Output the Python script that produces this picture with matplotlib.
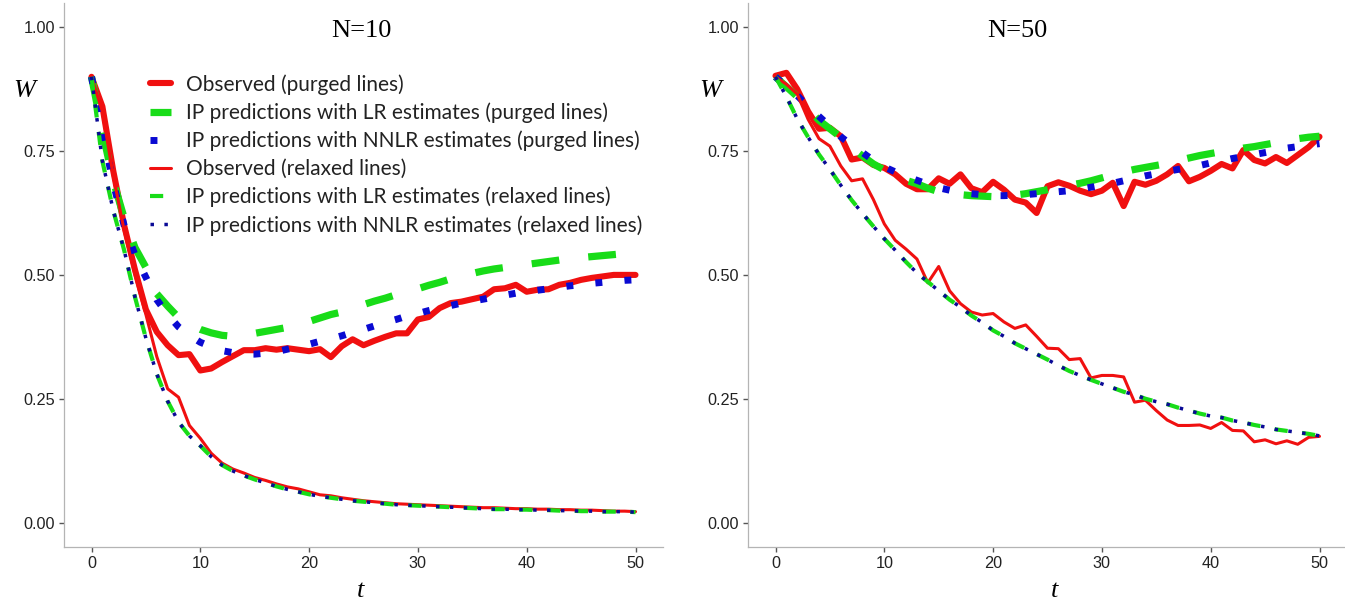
import matplotlib
matplotlib.use("Agg")
import matplotlib.pyplot as plt
from matplotlib.lines import Line2D

W_PX, H_PX = 1345, 601

t = list(range(51))

# N=10
obs_purged_10 = [0.90, 0.84, 0.71, 0.60, 0.51, 0.43, 0.385, 0.358, 0.338, 0.34,
                 0.307, 0.311, 0.324, 0.336, 0.348, 0.348, 0.352, 0.349, 0.352, 0.349,
                 0.346, 0.35, 0.334, 0.356, 0.37, 0.358, 0.367, 0.375, 0.382, 0.382,
                 0.41, 0.415, 0.433, 0.443, 0.446, 0.451, 0.456, 0.471, 0.473, 0.48,
                 0.466, 0.47, 0.471, 0.48, 0.484, 0.49, 0.494, 0.497, 0.5, 0.5, 0.5]
lr_purged_10 = [0.90, 0.79, 0.69, 0.615, 0.555, 0.515, 0.462, 0.437, 0.414, 0.40,
                0.39, 0.383, 0.378, 0.376, 0.378, 0.382, 0.386, 0.39, 0.394, 0.40,
                0.406, 0.413, 0.42, 0.425, 0.432, 0.44, 0.447, 0.453, 0.46, 0.466,
                0.472, 0.479, 0.485, 0.492, 0.498, 0.503, 0.508, 0.512, 0.515, 0.518,
                0.521, 0.524, 0.527, 0.53, 0.533, 0.535, 0.537, 0.539, 0.541, 0.543, 0.545]
nnlr_purged_10 = [0.90, 0.79, 0.685, 0.60, 0.54, 0.495, 0.45, 0.42, 0.395, 0.378,
                  0.364, 0.355, 0.347, 0.343, 0.34, 0.34, 0.342, 0.345, 0.35, 0.355,
                  0.36, 0.366, 0.371, 0.377, 0.384, 0.39, 0.397, 0.404, 0.41, 0.417,
                  0.422, 0.428, 0.433, 0.438, 0.443, 0.447, 0.451, 0.455, 0.459, 0.463,
                  0.466, 0.469, 0.472, 0.475, 0.478, 0.48, 0.483, 0.485, 0.487, 0.489, 0.49]
obs_relaxed_10 = [0.90, 0.83, 0.70, 0.59, 0.50, 0.42, 0.335, 0.27, 0.253, 0.196,
                  0.17, 0.14, 0.12, 0.108, 0.10, 0.091, 0.085, 0.078, 0.072, 0.068,
                  0.062, 0.056, 0.054, 0.05, 0.047, 0.044, 0.042, 0.04, 0.038, 0.037,
                  0.036, 0.035, 0.034, 0.033, 0.032, 0.031, 0.030, 0.030, 0.029, 0.028,
                  0.028, 0.027, 0.027, 0.026, 0.026, 0.025, 0.025, 0.024, 0.023, 0.023, 0.022]
lr_relaxed_10 = [0.90, 0.73, 0.63, 0.55, 0.455, 0.372, 0.30, 0.245, 0.203, 0.175,
                 0.155, 0.133, 0.116, 0.104, 0.095, 0.087, 0.08, 0.073, 0.067, 0.062,
                 0.057, 0.053, 0.05, 0.047, 0.044, 0.042, 0.04, 0.038, 0.036, 0.035,
                 0.034, 0.033, 0.032, 0.031, 0.030, 0.029, 0.028, 0.027, 0.027, 0.026,
                 0.026, 0.025, 0.025, 0.024, 0.024, 0.023, 0.023, 0.022, 0.022, 0.022, 0.021]
nnlr_relaxed_10 = list(lr_relaxed_10)  # drawn on top of each other in the original

# N=50
obs_purged_50 = [0.902, 0.908, 0.875, 0.83, 0.795, 0.797, 0.78, 0.733, 0.737, 0.722,
                 0.716, 0.703, 0.684, 0.673, 0.673, 0.695, 0.684, 0.703, 0.675, 0.667,
                 0.688, 0.672, 0.652, 0.646, 0.625, 0.679, 0.687, 0.68, 0.67, 0.663,
                 0.67, 0.686, 0.639, 0.688, 0.682, 0.69, 0.703, 0.72, 0.689, 0.698,
                 0.71, 0.724, 0.715, 0.752, 0.732, 0.725, 0.738, 0.726, 0.742, 0.758, 0.779]
lr_purged_50 = [0.90, 0.88, 0.86, 0.835, 0.812, 0.795, 0.778, 0.757, 0.74, 0.724,
                0.712, 0.70, 0.691, 0.684, 0.675, 0.668, 0.664, 0.662, 0.66, 0.659,
                0.658, 0.659, 0.661, 0.664, 0.668, 0.672, 0.677, 0.681, 0.685, 0.69,
                0.696, 0.702, 0.708, 0.713, 0.717, 0.721, 0.725, 0.731, 0.736, 0.741,
                0.745, 0.749, 0.752, 0.756, 0.759, 0.763, 0.767, 0.771, 0.775, 0.778, 0.78]
nnlr_purged_50 = [0.90, 0.88, 0.862, 0.84, 0.82, 0.80, 0.779, 0.762, 0.747, 0.731,
                  0.718, 0.708, 0.699, 0.691, 0.683, 0.676, 0.671, 0.667, 0.664, 0.662,
                  0.66, 0.66, 0.661, 0.662, 0.664, 0.666, 0.668, 0.67, 0.673, 0.677,
                  0.681, 0.685, 0.69, 0.695, 0.70, 0.704, 0.709, 0.713, 0.717, 0.721,
                  0.726, 0.73, 0.735, 0.739, 0.743, 0.747, 0.751, 0.756, 0.759, 0.762, 0.765]
obs_relaxed_50 = [0.90, 0.885, 0.865, 0.814, 0.775, 0.76, 0.72, 0.69, 0.694, 0.652,
                  0.603, 0.57, 0.552, 0.532, 0.484, 0.517, 0.468, 0.442, 0.425, 0.419,
                  0.422, 0.405, 0.392, 0.399, 0.376, 0.352, 0.351, 0.329, 0.331, 0.292,
                  0.297, 0.297, 0.294, 0.243, 0.247, 0.226, 0.207, 0.196, 0.196, 0.197,
                  0.19, 0.202, 0.186, 0.185, 0.163, 0.167, 0.159, 0.165, 0.158, 0.172, 0.174]
lr_relaxed_50 = [0.90, 0.86, 0.815, 0.778, 0.743, 0.713, 0.681, 0.651, 0.624, 0.598,
                 0.573, 0.55, 0.526, 0.504, 0.486, 0.468, 0.45, 0.435, 0.418, 0.404,
                 0.388, 0.376, 0.362, 0.351, 0.34, 0.329, 0.317, 0.306, 0.297, 0.288,
                 0.28, 0.272, 0.264, 0.258, 0.25, 0.244, 0.239, 0.232, 0.226, 0.22,
                 0.215, 0.212, 0.206, 0.202, 0.197, 0.193, 0.188, 0.185, 0.182, 0.179, 0.175]
nnlr_relaxed_50 = list(lr_relaxed_50)

legend_labels = [
    "Observed (purged lines)",
    "IP predictions with LR estimates (purged lines)",
    "IP predictions with NNLR estimates (purged lines)",
    "Observed (relaxed lines)",
    "IP predictions with LR estimates (relaxed lines)",
    "IP predictions with NNLR estimates (relaxed lines)",
]

RED = "#f01010"
GREEN = "#18dc18"
BLUE = "#0a0ad2"
NAVY = "#0a0a96"

plt.rcParams["lines.scale_dashes"] = False
plt.rcParams["font.family"] = ["Liberation Sans", "DejaVu Sans"]

styles = [
    dict(color=RED, lw=4.4, solid_joinstyle="round", solid_capstyle="round"),
    dict(color=GREEN, lw=5.2, dashes=(20, 21), dash_capstyle="butt"),
    dict(color=BLUE, lw=5.0, dashes=(5, 16), dash_capstyle="butt"),
    dict(color=RED, lw=2.2, solid_joinstyle="round", solid_capstyle="round"),
    dict(color=GREEN, lw=3.0, dashes=(9.5, 10.5), dash_capstyle="butt"),
    dict(color=NAVY, lw=2.5, dashes=(2.5, 7.5), dash_capstyle="butt"),
]


def px(x, y):
    return x / W_PX, 1 - y / H_PX


def style_axes(ax):
    ax.set_xlim(-2.5, 52.5)
    ax.set_ylim(-0.05, 1.05)
    ax.set_xticks([0, 10, 20, 30, 40, 50])
    ax.set_yticks([0, 0.25, 0.5, 0.75, 1.0])
    ax.set_yticklabels(["0.00", "0.25", "0.50", "0.75", "1.00"])
    for side in ["top", "right"]:
        ax.spines[side].set_visible(False)
    for side in ["left", "bottom"]:
        ax.spines[side].set_color("#b4b4b4")
        ax.spines[side].set_linewidth(0.9)
    ax.tick_params(length=3.3, width=1.0, color="#555555", pad=3.2,
                   labelsize=11.7, labelcolor="#222222")


fig = plt.figure(figsize=(W_PX / 100, H_PX / 100), dpi=100)
ax1 = fig.add_axes([64.3 / W_PX, 53.7 / H_PX, 598.4 / W_PX, 544.8 / H_PX])
ax2 = fig.add_axes([748.3 / W_PX, 53.7 / H_PX, 598.4 / W_PX, 544.8 / H_PX])

panels = [
    (ax1, [obs_purged_10, lr_purged_10, nnlr_purged_10,
           obs_relaxed_10, lr_relaxed_10, nnlr_relaxed_10]),
    (ax2, [obs_purged_50, lr_purged_50, nnlr_purged_50,
           obs_relaxed_50, lr_relaxed_50, nnlr_relaxed_50]),
]
for ax, series in panels:
    for values, st in zip(series, styles):
        ax.plot(t, values, **st)
    style_axes(ax)

handles = [Line2D([], [], **st) for st in styles]
leg = ax1.legend(handles, legend_labels, loc="upper left",
                 bbox_to_anchor=px(150, 74), bbox_transform=fig.transFigure,
                 frameon=False, borderpad=0, borderaxespad=0,
                 handlelength=1.0, handletextpad=0.75, labelspacing=0.37,
                 prop={"family": "Lato", "size": 15})
for txt in leg.get_texts():
    txt.set_color("#222222")

serif = ["Liberation Serif", "DejaVu Serif"]
fig.text(*px(361, 31), "N=10", ha="center", va="center", family=serif, fontsize=19)
fig.text(*px(1017, 31), "N=50", ha="center", va="center", family=serif, fontsize=19)
fig.text(*px(24.5, 91), "W", ha="center", va="center", family=serif,
         style="italic", fontsize=19)
fig.text(*px(710, 91), "W", ha="center", va="center", family=serif,
         style="italic", fontsize=19)
fig.text(*px(361, 591), "t", ha="center", va="center", family=serif,
         style="italic", fontsize=19)
fig.text(*px(1055, 591), "t", ha="center", va="center", family=serif,
         style="italic", fontsize=19)

fig.savefig("out.png", dpi=100)
